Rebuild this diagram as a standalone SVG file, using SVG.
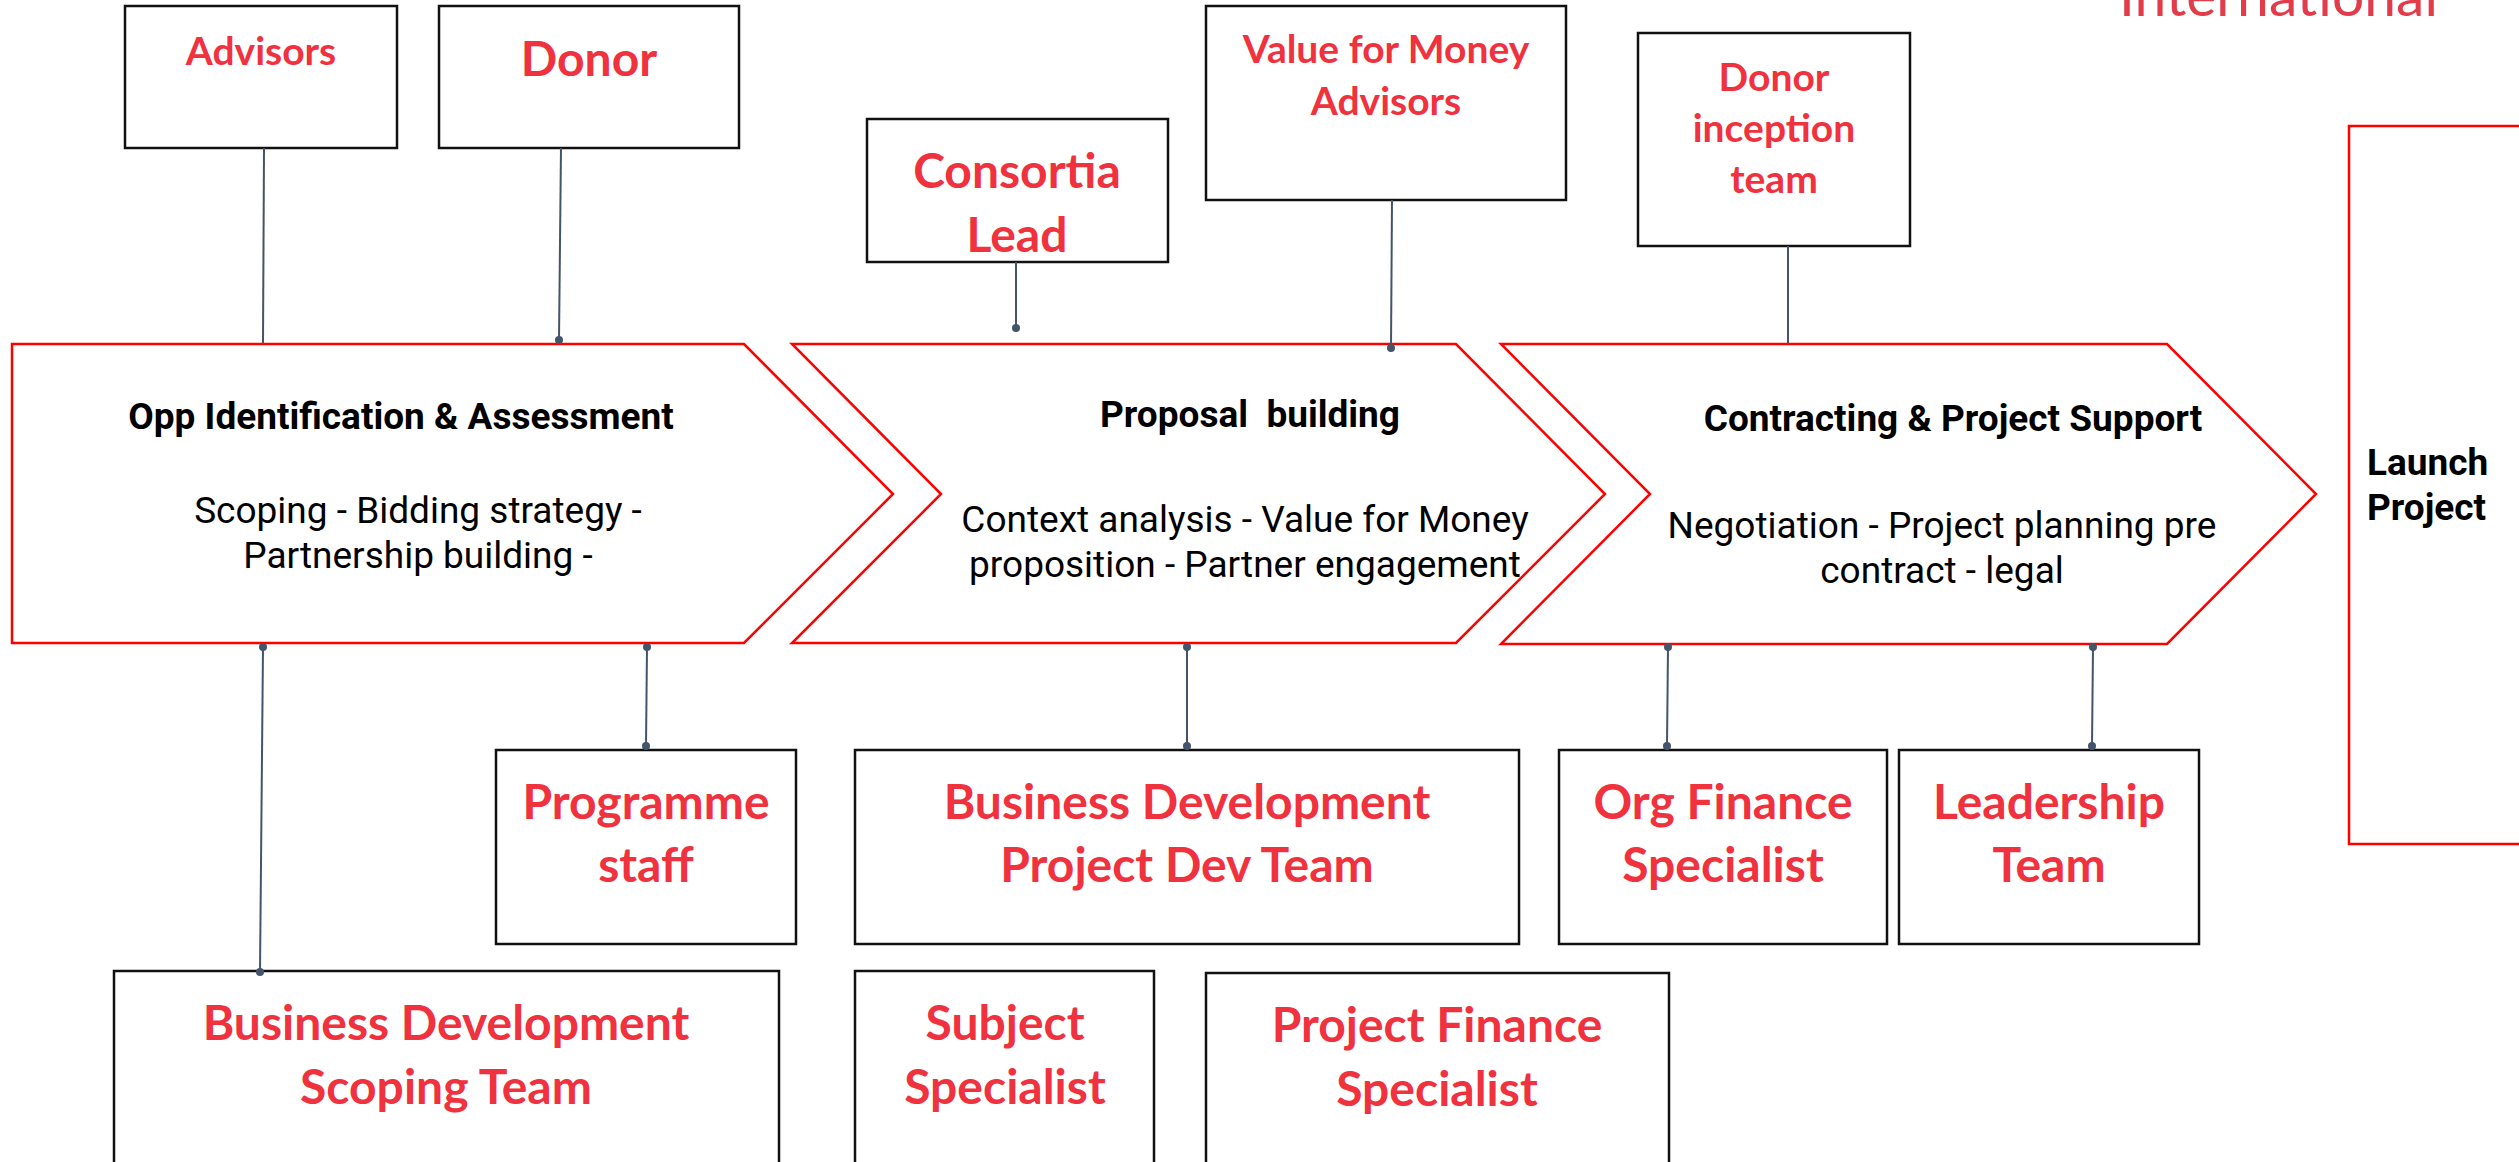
<svg xmlns="http://www.w3.org/2000/svg" width="2519" height="1162" viewBox="0 0 2519 1162">
  <style>
    .box { fill: #ffffff; stroke: #111111; stroke-width: 2.5; }
    .stage { fill: #ffffff; stroke: #ff0000; stroke-width: 2.5; stroke-linejoin: miter; }
    .role { font-family: Lato, "Open Sans", "Liberation Sans", sans-serif; font-weight: 700; fill: #f0313e; text-anchor: middle; }
    .big { font-size: 48px; }
    .small { font-size: 39px; }
    .head { font-family: Roboto, "Liberation Sans", sans-serif; font-weight: 700; font-size: 37px; fill: #000000; }
    .sub { font-family: Roboto, "Liberation Sans", sans-serif; font-weight: 400; font-size: 37px; fill: #000000; text-anchor: middle; }
    .link { stroke: #44546a; stroke-width: 2; fill: none; }
    .dot { fill: #44546a; }
  </style>

  <!-- brand word, clipped by the top edge -->
  <text x="2119" y="16" font-family="Lato, 'Open Sans', sans-serif" font-size="57" fill="#e23b4a">International</text>

  <!-- Launch stage -->
  <g id="launch">
    <rect class="stage" x="2349" y="126" width="200" height="718"/>
    <text class="head" x="2367" y="475">Launch</text>
    <text class="head" x="2367" y="520">Project</text>
  </g>

  <!-- process chevrons -->
  <g id="stage-opp">
    <polygon class="stage" points="12,344 744,344 893,494 744,643 12,643"/>
    <text class="head" x="401" y="429" text-anchor="middle">Opp Identification &amp; Assessment</text>
    <text class="sub" x="418" y="523">Scoping - Bidding strategy -</text>
    <text class="sub" x="418" y="568">Partnership building -</text>
  </g>
  <g id="stage-proposal">
    <polygon class="stage" points="792,344 1456,344 1605,494 1456,643 792,643 941,494"/>
    <text class="head" x="1250" y="427" text-anchor="middle" xml:space="preserve">Proposal  building</text>
    <text class="sub" x="1245" y="532">Context analysis - Value for Money</text>
    <text class="sub" x="1245" y="577">proposition - Partner engagement</text>
  </g>
  <g id="stage-contract">
    <polygon class="stage" points="1501,344 2167,344 2316,494 2167,644 1501,644 1650,494"/>
    <text class="head" x="1953" y="431" text-anchor="middle">Contracting &amp; Project Support</text>
    <text class="sub" x="1942" y="538">Negotiation - Project planning pre</text>
    <text class="sub" x="1942" y="583">contract - legal</text>
  </g>

  <!-- top role boxes -->
  <g id="advisors">
    <rect class="box" x="125" y="6" width="272" height="142"/>
    <text class="role small" x="261" y="65">Advisors</text>
  </g>
  <g id="donor">
    <rect class="box" x="439" y="6" width="300" height="142"/>
    <text class="role big" x="589" y="76">Donor</text>
  </g>
  <g id="consortia-lead">
    <rect class="box" x="867" y="119" width="301" height="143"/>
    <text class="role big" x="1017" y="188">Consortia</text>
    <text class="role big" x="1017" y="252">Lead</text>
  </g>
  <g id="vfm-advisors">
    <rect class="box" x="1206" y="6" width="360" height="194"/>
    <text class="role small" x="1386" y="63">Value for Money</text>
    <text class="role small" x="1386" y="115">Advisors</text>
  </g>
  <g id="donor-inception">
    <rect class="box" x="1638" y="33" width="272" height="213"/>
    <text class="role small" x="1774" y="91">Donor</text>
    <text class="role small" x="1774" y="142">inception</text>
    <text class="role small" x="1774" y="193">team</text>
  </g>

  <!-- bottom role boxes -->
  <g id="programme-staff">
    <rect class="box" x="496" y="750" width="300" height="194"/>
    <text class="role big" x="646" y="819">Programme</text>
    <text class="role big" x="646" y="882">staff</text>
  </g>
  <g id="bd-project-dev">
    <rect class="box" x="855" y="750" width="664" height="194"/>
    <text class="role big" x="1187" y="819">Business Development</text>
    <text class="role big" x="1187" y="882">Project Dev Team</text>
  </g>
  <g id="org-finance">
    <rect class="box" x="1559" y="750" width="328" height="194"/>
    <text class="role big" x="1723" y="819">Org Finance</text>
    <text class="role big" x="1723" y="882">Specialist</text>
  </g>
  <g id="leadership">
    <rect class="box" x="1899" y="750" width="300" height="194"/>
    <text class="role big" x="2049" y="819">Leadership</text>
    <text class="role big" x="2049" y="882">Team</text>
  </g>
  <g id="bd-scoping">
    <rect class="box" x="114" y="971" width="665" height="220"/>
    <text class="role big" x="446" y="1040">Business Development</text>
    <text class="role big" x="446" y="1104">Scoping Team</text>
  </g>
  <g id="subject-specialist">
    <rect class="box" x="855" y="971" width="299" height="220"/>
    <text class="role big" x="1005" y="1040">Subject</text>
    <text class="role big" x="1005" y="1104">Specialist</text>
  </g>
  <g id="project-finance">
    <rect class="box" x="1206" y="973" width="463" height="220"/>
    <text class="role big" x="1437" y="1042">Project Finance</text>
    <text class="role big" x="1437" y="1106">Specialist</text>
  </g>

  <!-- connectors -->
  <g id="connectors">
    <line class="link" x1="264" y1="148" x2="263" y2="344"/>
    <line class="link" x1="561" y1="148" x2="559" y2="340"/>
    <circle class="dot" cx="559" cy="340" r="4"/>
    <line class="link" x1="1016" y1="262" x2="1016" y2="328"/>
    <circle class="dot" cx="1016" cy="328" r="4"/>
    <line class="link" x1="1392" y1="200" x2="1391" y2="348"/>
    <circle class="dot" cx="1391" cy="348" r="4"/>
    <line class="link" x1="1788" y1="246" x2="1788" y2="344"/>

    <line class="link" x1="263" y1="647" x2="260" y2="972"/>
    <circle class="dot" cx="263" cy="647" r="4"/>
    <circle class="dot" cx="260" cy="972" r="4"/>
    <line class="link" x1="647" y1="647" x2="646" y2="746"/>
    <circle class="dot" cx="647" cy="647" r="4"/>
    <circle class="dot" cx="646" cy="746" r="4"/>
    <line class="link" x1="1187" y1="647" x2="1187" y2="746"/>
    <circle class="dot" cx="1187" cy="647" r="4"/>
    <circle class="dot" cx="1187" cy="746" r="4"/>
    <line class="link" x1="1668" y1="647" x2="1667" y2="746"/>
    <circle class="dot" cx="1668" cy="647" r="4"/>
    <circle class="dot" cx="1667" cy="746" r="4"/>
    <line class="link" x1="2093" y1="647" x2="2092" y2="746"/>
    <circle class="dot" cx="2093" cy="647" r="4"/>
    <circle class="dot" cx="2092" cy="746" r="4"/>
  </g>
</svg>
